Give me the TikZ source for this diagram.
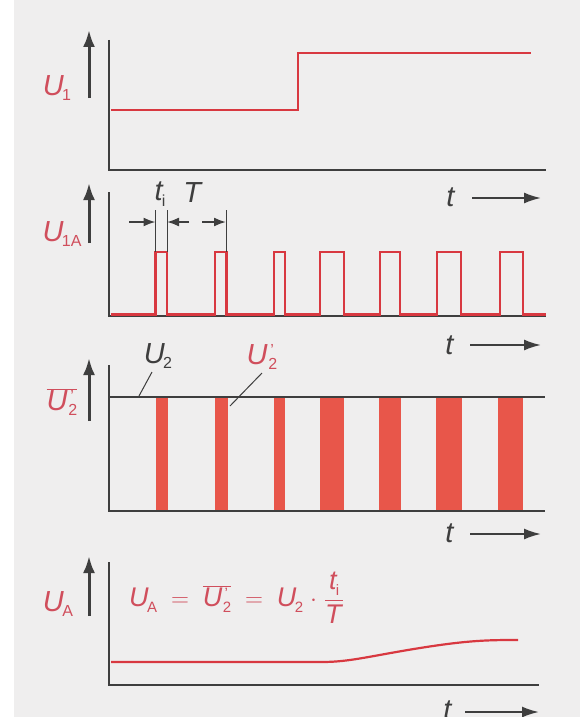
\documentclass[tikz,border=0pt]{standalone}
\usepackage{fontspec}
\setmainfont{Liberation Sans}
\usetikzlibrary{arrows.meta}
\definecolor{sigred}{RGB}{216,56,64}
\definecolor{barred}{RGB}{232,86,74}
\definecolor{labred}{RGB}{208,78,92}
\definecolor{axisgray}{RGB}{62,62,62}
\definecolor{paper}{RGB}{239,238,238}
\newcommand\Sym[3]{\textit{#1}\kern-0.06em\raisebox{-0.2em}{\fontsize{#3}{#3}\selectfont #2}}
\newcommand\SymP[3]{\textit{#1}\kern0.02em\rlap{\raisebox{0.3em}{\fontsize{#3}{#3}\selectfont\kern0.12em'}}\raisebox{-0.2em}{\fontsize{#3}{#3}\selectfont #2}}
\tikzset{
  axisline/.style={draw=axisgray, line width=2pt},
  sigline/.style={draw=sigred, line width=2.4pt, line join=miter},
  uparrow/.style={draw=axisgray, line width=3pt, -{Latex[length=17pt,width=12pt]}},
  tarrow/.style={draw=axisgray, line width=2pt, -{Latex[length=17pt,width=11pt]}},
  dimarrow/.style={draw=axisgray, line width=1.8pt, -{Latex[length=12pt,width=9pt]}},
  thin/.style={draw=axisgray, line width=1pt},
  biglab/.style={inner sep=0pt, font=\fontsize{29}{29}\selectfont},
  redlab/.style={biglab, text=labred},
  graylab/.style={biglab, text=axisgray},
}
\begin{document}
\begin{tikzpicture}[x=1pt, y=-1pt]
\useasboundingbox (0,0) rectangle (580,717);
\fill[paper] (14,0) rectangle (580,717);
\fill[white] (0,0) rectangle (14,717);

% ---------------- Panel 1 ----------------
\coordinate (p1top) at (109,40);
\coordinate (p1org) at (109,170);
\coordinate (p1end) at (546,170);
\draw[axisline] (p1top) -- (p1org) -- (p1end);
\draw[sigline] (111,110) -- (298,110) -- (298,53) -- (531,53);
\coordinate (ua1s) at (89,98);
\coordinate (ua1e) at (89,30);
\draw[uparrow] (ua1s) -- (ua1e);
\node[redlab] (U1) at (57,88) {\Sym{U}{1}{16}};
\node[graylab] (t1) at (451,197) {\textit{t}};
\coordinate (ta1s) at (472,198);
\coordinate (ta1e) at (541,198);
\draw[tarrow] (ta1s) -- (ta1e);

% ---------------- Panel 2 ----------------
\coordinate (p2top) at (109,192);
\coordinate (p2org) at (109,316);
\coordinate (p2end) at (546,316);
\draw[axisline] (p2top) -- (p2org) -- (p2end);
\draw[sigline] (111,314.5)
  -- (155.5,314.5) -- (155.5,252) -- (167,252) -- (167,314.5)
  -- (215,314.5) -- (215,252) -- (226.5,252) -- (226.5,314.5)
  -- (274,314.5) -- (274,252) -- (285,252) -- (285,314.5)
  -- (320,314.5) -- (320,252) -- (344,252) -- (344,314.5)
  -- (380,314.5) -- (380,252) -- (400,252) -- (400,314.5)
  -- (437,314.5) -- (437,252) -- (461,252) -- (461,314.5)
  -- (500,314.5) -- (500,252) -- (523,252) -- (523,314.5) -- (546,314.5);
\coordinate (ua2s) at (89,243);
\coordinate (ua2e) at (89,183);
\draw[uparrow] (ua2s) -- (ua2e);
\node[redlab] (U1A) at (62,234) {\Sym{U}{1A}{16}};
% dimension lines
\coordinate (d1a) at (155.5,210); \coordinate (d1b) at (155.5,252);
\coordinate (d2a) at (167,210);   \coordinate (d2b) at (167,252);
\coordinate (d3a) at (226,210);   \coordinate (d3b) at (226,252);
\draw[thin] (d1a) -- (d1b);
\draw[thin] (d2a) -- (d2b);
\draw[thin] (d3a) -- (d3b);
\coordinate (a1s) at (129,222); \coordinate (a1e) at (155.5,222);
\coordinate (a2s) at (189,222); \coordinate (a2e) at (167,222);
\coordinate (a3s) at (202,222); \coordinate (a3e) at (226,222);
\draw[dimarrow] (a1s) -- (a1e);
\draw[dimarrow] (a2s) -- (a2e);
\draw[dimarrow] (a3s) -- (a3e);
\node[graylab] (ti) at (160,194) {\Sym{t}{i}{16}};
\node[graylab] (TT) at (193,193) {\textit{T}};
\node[graylab] (t2) at (450,345) {\textit{t}};
\coordinate (ta2s) at (470,345);
\coordinate (ta2e) at (541,345);
\draw[tarrow] (ta2s) -- (ta2e);

% ---------------- Panel 3 ----------------
\foreach \a/\b in {155.5/168,215/227.5,274/285,320/344,379/401,436/462,498/523}{
  \fill[barred] (\a,397) rectangle (\b,510);
}
\coordinate (p3top) at (109,365);
\coordinate (p3org) at (109,511);
\coordinate (p3end) at (545,511);
\draw[axisline] (p3top) -- (p3org) -- (p3end);
\coordinate (u2l) at (109,397);
\coordinate (u2r) at (545,397);
\draw[axisline] (u2l) -- (u2r);
\coordinate (ua3s) at (89,421);
\coordinate (ua3e) at (89,358);
\draw[uparrow] (ua3s) -- (ua3e);
\node[redlab] (U2bar) at (62,402) {$\overline{\hbox{\SymP{U}{2}{16}}}$};
\node[graylab] (U2) at (158,356) {\Sym{U}{2}{16}};
\coordinate (l1s) at (152,372); \coordinate (l1e) at (139,396);
\draw[thin] (l1s) -- (l1e);
\node[redlab] (U2p) at (262,357) {\SymP{U}{2}{16}};
\coordinate (l2s) at (262,373); \coordinate (l2e) at (230,406);
\draw[thin] (l2s) -- (l2e);
\node[graylab] (t3) at (450,533) {\textit{t}};
\coordinate (ta3s) at (470,534);
\coordinate (ta3e) at (541,534);
\draw[tarrow] (ta3s) -- (ta3e);

% ---------------- Panel 4 ----------------
\coordinate (p4top) at (109,562);
\coordinate (p4org) at (109,685);
\coordinate (p4end) at (539,685);
\draw[axisline] (p4top) -- (p4org) -- (p4end);
\draw[sigline, line width=2.2pt] (111,662) -- (322,662)
  .. controls (350,662) and (370,656) .. (420,648)
  .. controls (470,640) and (490,640) .. (518,640);
\coordinate (ua4s) at (89,616);
\coordinate (ua4e) at (89,556);
\draw[uparrow] (ua4s) -- (ua4e);
\node[redlab] (UA) at (58,604) {\Sym{U}{A}{16}};
\node[inner sep=0pt, text=labred, font=\fontsize{27}{27}\selectfont, anchor=west] (form) at (129,598)
  {$\hbox{\Sym{U}{A}{15}}\;=\;\overline{\hbox{\SymP{U}{2}{15}}}\;=\;\hbox{\Sym{U}{2}{15}}\kern0.05em\cdot\kern0.05em{\displaystyle\frac{\hbox{\Sym{t}{i}{15}}}{\hbox{\textit{T}}}}$};
\node[graylab] (t4) at (448,710) {\textit{t}};
\coordinate (ta4s) at (465,712);
\coordinate (ta4e) at (539,712);
\draw[tarrow] (ta4s) -- (ta4e);
\end{tikzpicture}
\end{document}
